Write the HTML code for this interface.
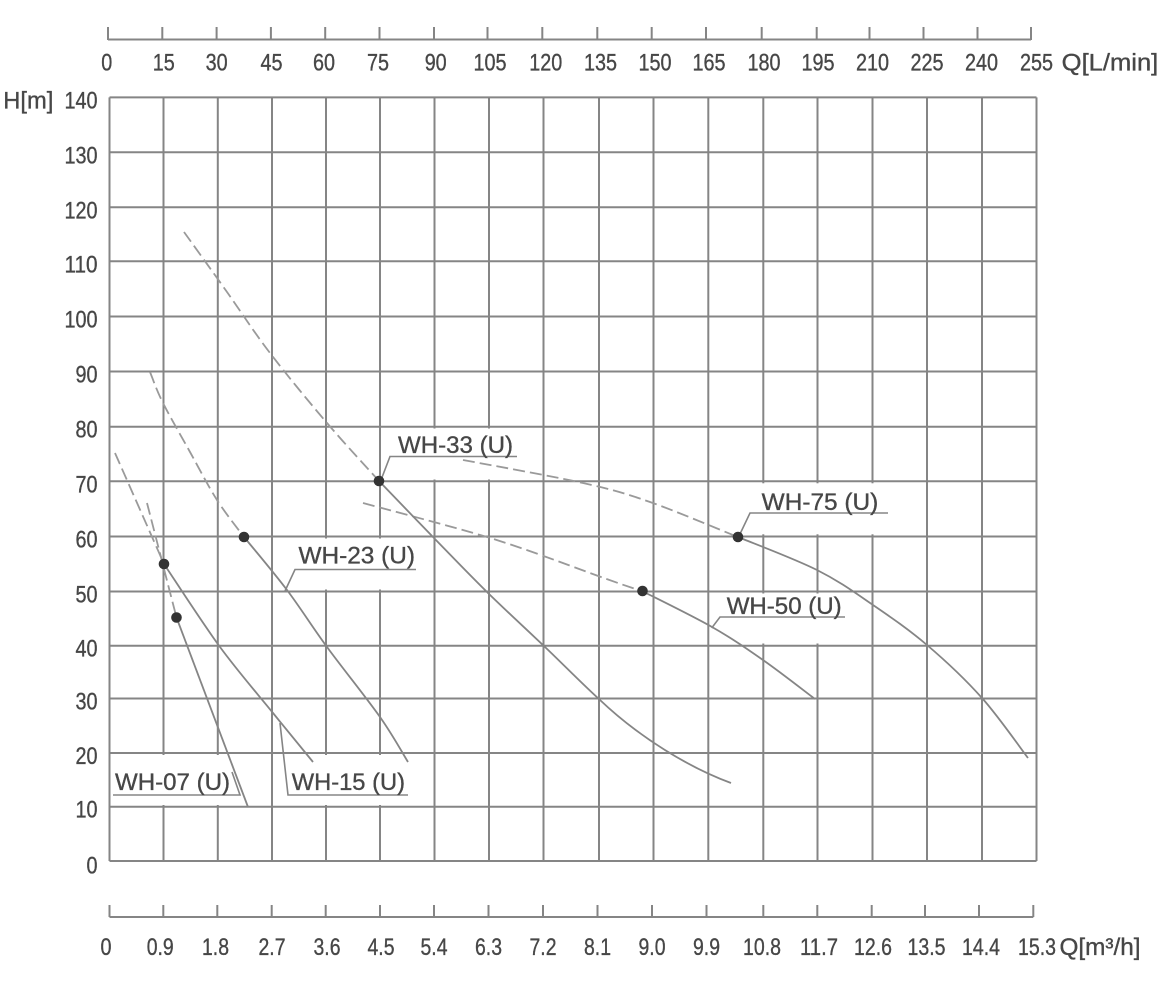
<!DOCTYPE html>
<html><head><meta charset="utf-8"><style>
html,body{margin:0;padding:0;background:#fff;}
svg{display:block;}
text{font-family:"Liberation Sans Narrow","Liberation Sans",sans-serif;font-size:24px;fill:#474747;stroke:#474747;stroke-width:0.35px;}
</style></head><body>
<svg width="1175" height="1000" viewBox="0 0 1175 1000" xmlns="http://www.w3.org/2000/svg">
<rect width="1175" height="1000" fill="#fff"/>
<!-- grid -->
<g stroke="#858585" stroke-width="2" fill="none">
<line x1="109.5" y1="97.4" x2="109.5" y2="861"/>
<line x1="163.5" y1="97.4" x2="163.5" y2="861"/>
<line x1="217.8" y1="97.4" x2="217.8" y2="861"/>
<line x1="272" y1="97.4" x2="272" y2="861"/>
<line x1="326" y1="97.4" x2="326" y2="861"/>
<line x1="380" y1="97.4" x2="380" y2="861"/>
<line x1="434.5" y1="97.4" x2="434.5" y2="861"/>
<line x1="489" y1="97.4" x2="489" y2="861"/>
<line x1="543.5" y1="97.4" x2="543.5" y2="861"/>
<line x1="599" y1="97.4" x2="599" y2="861"/>
<line x1="653.5" y1="97.4" x2="653.5" y2="861"/>
<line x1="708.3" y1="97.4" x2="708.3" y2="861"/>
<line x1="763.3" y1="97.4" x2="763.3" y2="861"/>
<line x1="817.5" y1="97.4" x2="817.5" y2="861"/>
<line x1="872.5" y1="97.4" x2="872.5" y2="861"/>
<line x1="927" y1="97.4" x2="927" y2="861"/>
<line x1="982" y1="97.4" x2="982" y2="861"/>
<line x1="1036.5" y1="97.4" x2="1036.5" y2="861"/>
<line x1="109.5" y1="97.4" x2="1036.5" y2="97.4"/>
<line x1="109.5" y1="152.3" x2="1036.5" y2="152.3"/>
<line x1="109.5" y1="207.3" x2="1036.5" y2="207.3"/>
<line x1="109.5" y1="261.3" x2="1036.5" y2="261.3"/>
<line x1="109.5" y1="316.5" x2="1036.5" y2="316.5"/>
<line x1="109.5" y1="371.5" x2="1036.5" y2="371.5"/>
<line x1="109.5" y1="426.7" x2="1036.5" y2="426.7"/>
<line x1="109.5" y1="481.3" x2="1036.5" y2="481.3"/>
<line x1="109.5" y1="536.5" x2="1036.5" y2="536.5"/>
<line x1="109.5" y1="591.5" x2="1036.5" y2="591.5"/>
<line x1="109.5" y1="645.7" x2="1036.5" y2="645.7"/>
<line x1="109.5" y1="698.5" x2="1036.5" y2="698.5"/>
<line x1="109.5" y1="753" x2="1036.5" y2="753"/>
<line x1="109.5" y1="806.7" x2="1036.5" y2="806.7"/>
<line x1="109.5" y1="861" x2="1036.5" y2="861"/>
</g>
<!-- label backgrounds -->
<g fill="#fff">
<rect x="388" y="428.5" width="132" height="51"/>
<rect x="293" y="538.5" width="125" height="51"/>
<rect x="286" y="755" width="124" height="50"/>
<rect x="111" y="755" width="131" height="50"/>
<rect x="748" y="483.3" width="142" height="51"/>
<rect x="714" y="593.5" width="133" height="50"/>
</g>
<!-- top axis -->
<g stroke="#858585" stroke-width="2">
<line x1="108" y1="39.5" x2="1031" y2="39.5"/>
<line x1="108" y1="27" x2="108" y2="40"/>
<line x1="162.3" y1="27" x2="162.3" y2="40"/>
<line x1="216.6" y1="27" x2="216.6" y2="40"/>
<line x1="270.9" y1="27" x2="270.9" y2="40"/>
<line x1="325.2" y1="27" x2="325.2" y2="40"/>
<line x1="379.5" y1="27" x2="379.5" y2="40"/>
<line x1="434" y1="27" x2="434" y2="40"/>
<line x1="487.5" y1="27" x2="487.5" y2="40"/>
<line x1="542.3" y1="27" x2="542.3" y2="40"/>
<line x1="597.3" y1="27" x2="597.3" y2="40"/>
<line x1="651.7" y1="27" x2="651.7" y2="40"/>
<line x1="706" y1="27" x2="706" y2="40"/>
<line x1="761.7" y1="27" x2="761.7" y2="40"/>
<line x1="816.7" y1="27" x2="816.7" y2="40"/>
<line x1="869.5" y1="27" x2="869.5" y2="40"/>
<line x1="923.5" y1="27" x2="923.5" y2="40"/>
<line x1="977.5" y1="27" x2="977.5" y2="40"/>
<line x1="1031" y1="27" x2="1031" y2="40"/>
</g>
<g>
<text x="101.2" y="70.5" textLength="11" lengthAdjust="spacingAndGlyphs">0</text>
<text x="152.8" y="70.5" textLength="22" lengthAdjust="spacingAndGlyphs">15</text>
<text x="205.6" y="70.5" textLength="22" lengthAdjust="spacingAndGlyphs">30</text>
<text x="260.5" y="70.5" textLength="22" lengthAdjust="spacingAndGlyphs">45</text>
<text x="313" y="70.5" textLength="22" lengthAdjust="spacingAndGlyphs">60</text>
<text x="367" y="70.5" textLength="22" lengthAdjust="spacingAndGlyphs">75</text>
<text x="424.7" y="70.5" textLength="22" lengthAdjust="spacingAndGlyphs">90</text>
<text x="473.5" y="70.5" textLength="33" lengthAdjust="spacingAndGlyphs">105</text>
<text x="529.2" y="70.5" textLength="33" lengthAdjust="spacingAndGlyphs">120</text>
<text x="584" y="70.5" textLength="33" lengthAdjust="spacingAndGlyphs">135</text>
<text x="638.5" y="70.5" textLength="33" lengthAdjust="spacingAndGlyphs">150</text>
<text x="692.5" y="70.5" textLength="33" lengthAdjust="spacingAndGlyphs">165</text>
<text x="747.5" y="70.5" textLength="33" lengthAdjust="spacingAndGlyphs">180</text>
<text x="801.5" y="70.5" textLength="33" lengthAdjust="spacingAndGlyphs">195</text>
<text x="856" y="70.5" textLength="33" lengthAdjust="spacingAndGlyphs">210</text>
<text x="910.5" y="70.5" textLength="33" lengthAdjust="spacingAndGlyphs">225</text>
<text x="965" y="70.5" textLength="33" lengthAdjust="spacingAndGlyphs">240</text>
<text x="1020" y="70.5" textLength="33" lengthAdjust="spacingAndGlyphs">255</text>
<text x="1061.7" y="70.5" textLength="96.6" lengthAdjust="spacingAndGlyphs">Q[L/min]</text>
</g>
<!-- left axis labels -->
<g>
<text x="3.3" y="108.4" textLength="50" lengthAdjust="spacingAndGlyphs">H[m]</text>
<text x="64.5" y="108.4" textLength="33" lengthAdjust="spacingAndGlyphs">140</text>
<text x="64.5" y="163.3" textLength="33" lengthAdjust="spacingAndGlyphs">130</text>
<text x="64.5" y="218.3" textLength="33" lengthAdjust="spacingAndGlyphs">120</text>
<text x="64.5" y="272.3" textLength="33" lengthAdjust="spacingAndGlyphs">110</text>
<text x="64.5" y="327.5" textLength="33" lengthAdjust="spacingAndGlyphs">100</text>
<text x="75.5" y="382.5" textLength="22" lengthAdjust="spacingAndGlyphs">90</text>
<text x="75.5" y="437.7" textLength="22" lengthAdjust="spacingAndGlyphs">80</text>
<text x="75.5" y="492.3" textLength="22" lengthAdjust="spacingAndGlyphs">70</text>
<text x="75.5" y="547.5" textLength="22" lengthAdjust="spacingAndGlyphs">60</text>
<text x="75.5" y="602.5" textLength="22" lengthAdjust="spacingAndGlyphs">50</text>
<text x="75.5" y="656.7" textLength="22" lengthAdjust="spacingAndGlyphs">40</text>
<text x="75.5" y="709.5" textLength="22" lengthAdjust="spacingAndGlyphs">30</text>
<text x="75.5" y="764" textLength="22" lengthAdjust="spacingAndGlyphs">20</text>
<text x="75.5" y="817.7" textLength="22" lengthAdjust="spacingAndGlyphs">10</text>
<text x="86.5" y="873.5" textLength="11" lengthAdjust="spacingAndGlyphs">0</text>
</g>
<!-- bottom axis -->
<g stroke="#858585" stroke-width="2">
<line x1="109.5" y1="917" x2="1033.3" y2="917"/>
<line x1="109.5" y1="905" x2="109.5" y2="917"/>
<line x1="163.3" y1="905" x2="163.3" y2="917"/>
<line x1="217.3" y1="905" x2="217.3" y2="917"/>
<line x1="271.7" y1="905" x2="271.7" y2="917"/>
<line x1="325.7" y1="905" x2="325.7" y2="917"/>
<line x1="380" y1="905" x2="380" y2="917"/>
<line x1="434" y1="905" x2="434" y2="917"/>
<line x1="488.5" y1="905" x2="488.5" y2="917"/>
<line x1="543" y1="905" x2="543" y2="917"/>
<line x1="597.5" y1="905" x2="597.5" y2="917"/>
<line x1="652" y1="905" x2="652" y2="917"/>
<line x1="706.5" y1="905" x2="706.5" y2="917"/>
<line x1="763.3" y1="905" x2="763.3" y2="917"/>
<line x1="817.3" y1="905" x2="817.3" y2="917"/>
<line x1="871.7" y1="905" x2="871.7" y2="917"/>
<line x1="925" y1="905" x2="925" y2="917"/>
<line x1="979" y1="905" x2="979" y2="917"/>
<line x1="1033.3" y1="905" x2="1033.3" y2="917"/>
</g>
<g>
<text x="100.5" y="955" textLength="11" lengthAdjust="spacingAndGlyphs">0</text>
<text x="146.7" y="955" textLength="27" lengthAdjust="spacingAndGlyphs">0.9</text>
<text x="202" y="955" textLength="27" lengthAdjust="spacingAndGlyphs">1.8</text>
<text x="258.5" y="955" textLength="27" lengthAdjust="spacingAndGlyphs">2.7</text>
<text x="313.5" y="955" textLength="27" lengthAdjust="spacingAndGlyphs">3.6</text>
<text x="367.5" y="955" textLength="27" lengthAdjust="spacingAndGlyphs">4.5</text>
<text x="420.5" y="955" textLength="27" lengthAdjust="spacingAndGlyphs">5.4</text>
<text x="475" y="955" textLength="27" lengthAdjust="spacingAndGlyphs">6.3</text>
<text x="529.5" y="955" textLength="27" lengthAdjust="spacingAndGlyphs">7.2</text>
<text x="584" y="955" textLength="27" lengthAdjust="spacingAndGlyphs">8.1</text>
<text x="638.5" y="955" textLength="27" lengthAdjust="spacingAndGlyphs">9.0</text>
<text x="693" y="955" textLength="27" lengthAdjust="spacingAndGlyphs">9.9</text>
<text x="743" y="955" textLength="38" lengthAdjust="spacingAndGlyphs">10.8</text>
<text x="800" y="955" textLength="38" lengthAdjust="spacingAndGlyphs">11.7</text>
<text x="854" y="955" textLength="38" lengthAdjust="spacingAndGlyphs">12.6</text>
<text x="907.5" y="955" textLength="38" lengthAdjust="spacingAndGlyphs">13.5</text>
<text x="962" y="955" textLength="38" lengthAdjust="spacingAndGlyphs">14.4</text>
<text x="1018" y="955" textLength="38" lengthAdjust="spacingAndGlyphs">15.3</text>
<text x="1059.5" y="955" textLength="81" lengthAdjust="spacingAndGlyphs">Q[m³/h]</text>
</g>
<!-- curves: dashed parts -->
<g fill="none" stroke="#9a9a9a" stroke-width="1.8" stroke-dasharray="12 5" stroke-linecap="butt" stroke-linejoin="round">
<path d="M147,503 L176.5,617.5"/>
<path d="M115,453 L164,564"/>
<path d="M150,372 C152.2,377.2 156.3,389.7 163,403 C169.7,416.3 181,435.8 190,452 C199,468.2 208,485.8 217,500 C226,514.2 239.5,530.8 244,537"/>
<path d="M184,232 C191.2,242 212.7,271.8 227,292 C241.3,312.2 253.3,331.2 270,353 C286.7,374.8 308.8,401.7 327,423 C345.2,444.3 370.3,471.3 379,481"/>
<path d="M363,503 C400,513 450,526 487,537 C540,553 600,578 642,591"/>
<path d="M463,460 C483,463.8 551.8,476 583,483 C614.2,490 624.2,493 650,502 C675.8,511 723.3,531.2 738,537"/>
</g>
<!-- curves: solid parts -->
<g fill="none" stroke="#858585" stroke-width="1.8" stroke-linejoin="round">
<path d="M176.5,617.5 L248,807"/>
<path d="M164,564 C173.3,577.8 201.8,622.2 220,647 C238.2,671.8 257.5,693.8 273,713 C288.5,732.2 306.3,753.8 313,762"/>
<path d="M244,537 C251.2,545.8 273.2,571.7 287,590 C300.8,608.3 311.5,625.8 327,647 C342.5,668.2 366.5,697.8 380,717 C393.5,736.2 403.3,754.5 408,762"/>
<path d="M379,481 C388,490.3 414.8,518.3 433,537 C451.2,555.7 469.3,574.7 488,593 C506.7,611.3 526.3,629.2 545,647 C563.7,664.8 582,683.7 600,700 C640,738 690,768 731,783"/>
<path d="M642,591 C653.7,597 691.8,615.5 712,627 C732.2,638.5 745.8,648 763,660 C780.2,672 806.3,692.5 815,699"/>
<path d="M738,537 C751.2,542.5 794.5,558.7 817,570 C839.5,581.3 854.7,592.5 873,605 C891.3,617.5 908.8,629.5 927,645 C945.2,660.5 965.2,679.2 982,698 C998.8,716.8 1020.3,748 1028,758"/>
</g>
<!-- leaders and underlines -->
<g fill="none" stroke="#858585" stroke-width="1.6">
<polyline points="381,480 390,456.5 517,456.5"/>
<polyline points="285,591 295,569.5 416,569.5"/>
<polyline points="280,723 288,795 408,795"/>
<polyline points="113,795 240,795 232,772"/>
<polyline points="740,534 750,513 888,513"/>
<polyline points="711.7,628 720,617 845,617"/>
</g>
<!-- dots -->
<g fill="#333">
<circle cx="164" cy="564" r="5.3"/>
<circle cx="176.5" cy="617.5" r="5.3"/>
<circle cx="244" cy="537" r="5.3"/>
<circle cx="379" cy="481" r="5.3"/>
<circle cx="642.5" cy="591" r="5.3"/>
<circle cx="738" cy="537" r="5.3"/>
</g>
<!-- curve labels -->
<g>
<text x="398" y="453" textLength="115" lengthAdjust="spacingAndGlyphs">WH-33 (U)</text>
<text x="298.5" y="563.5" textLength="116.5" lengthAdjust="spacingAndGlyphs">WH-23 (U)</text>
<text x="291.7" y="790" textLength="113.3" lengthAdjust="spacingAndGlyphs">WH-15 (U)</text>
<text x="115" y="790" textLength="115" lengthAdjust="spacingAndGlyphs">WH-07 (U)</text>
<text x="761.7" y="510" textLength="116.6" lengthAdjust="spacingAndGlyphs">WH-75 (U)</text>
<text x="726.7" y="614" textLength="115" lengthAdjust="spacingAndGlyphs">WH-50 (U)</text>
</g>
</svg>
</body></html>
